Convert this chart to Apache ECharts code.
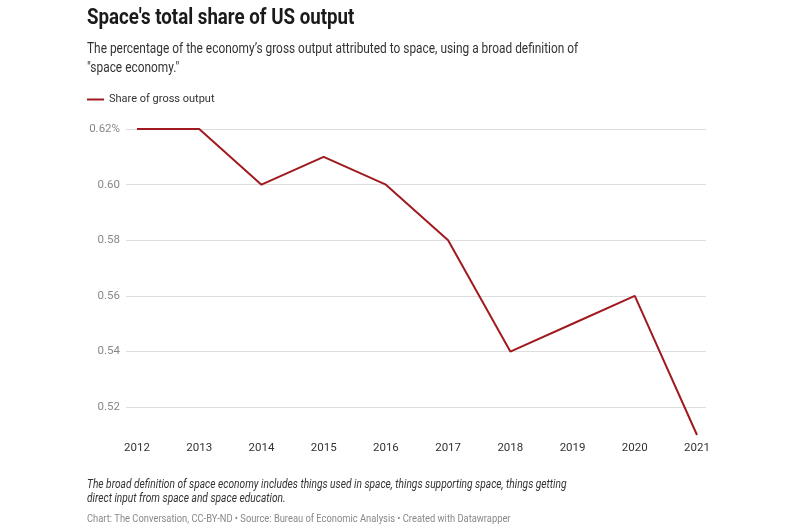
<!DOCTYPE html>
<html><head><meta charset="utf-8">
<script src="https://cdn.jsdelivr.net/npm/echarts@6/dist/echarts.min.js"></script>
<style>html,body{margin:0;padding:0;background:#fff}#c{width:800px;height:530px}</style>
</head><body><div id="c"></div>
<script>
const years = ['2012','2013','2014','2015','2016','2017','2018','2019','2020','2021'];
const shareOfGrossOutput = [0.62, 0.62, 0.60, 0.61, 0.60, 0.58, 0.54, 0.55, 0.56, 0.51];
const yMin = 0.51, yMax = 0.62, yStep = 0.01;
const titleText = "Space's total share of US output";
const subtitleLines = ['The percentage of the economy\u2019s gross output attributed to space, using a broad definition of', '"space economy."'];
const noteLines = ['The broad definition of space economy includes things used in space, things supporting space, things getting', 'direct input from space and space education.'];
const sourceText = 'Chart: The Conversation, CC-BY-ND \u2022 Source: Bureau of Economic Analysis \u2022 Created with Datawrapper';

const chart = echarts.init(document.getElementById('c'));
const F = 'Roboto, "Noto Sans", sans-serif';
const SX = 0.85;
const txt = (text, x, y, font, fill) => ({
  type: 'text', x: x, y: y, scaleX: SX, originX: 0, originY: 0, silent: true,
  style: { text: text, x: 0, y: 0, font: font, fill: fill, verticalAlign: 'middle', align: 'left' }
});
const yLabel = v => {
  const r = Math.round(v * 100);
  if (r % 2 !== 0) return '';
  const s = (r / 100).toFixed(2);
  return r === 62 ? s + '%' : s;
};
chart.setOption({
  animation: false,
  backgroundColor: '#fff',
  textStyle: { fontFamily: F },
  graphic: [
    txt(titleText, 87, 18, 'bold 22px ' + F, '#1a1a1a'),
    txt(subtitleLines[0], 87, 49, '14px ' + F, '#333'),
    txt(subtitleLines[1], 87, 68, '14px ' + F, '#333'),
    txt(noteLines[0], 87, 485, 'italic 12px ' + F, '#333'),
    txt(noteLines[1], 87, 499, 'italic 12px ' + F, '#333'),
    txt(sourceText, 87, 519, '11px ' + F, '#888')
  ],
  legend: {
    left: 82, top: 89, icon: 'rect', itemWidth: 17, itemHeight: 2, itemGap: 10,
    textStyle: { fontFamily: F, fontSize: 11, color: '#333' },
    data: ['Share of gross output']
  },
  grid: [
    { left: 126, right: 94, top: 129, bottom: 95 },
    { left: 137, right: 103, top: 129, bottom: 95 }
  ],
  xAxis: [
    { gridIndex: 0, type: 'category', data: years, show: false },
    { gridIndex: 1, type: 'category', data: years, boundaryGap: false,
      axisLine: { show: false }, axisTick: { show: false }, splitLine: { show: false },
      axisLabel: { margin: 7, color: '#333', fontSize: 11.5, fontFamily: F } }
  ],
  yAxis: [
    { gridIndex: 0, type: 'value', min: yMin, max: yMax, interval: yStep,
      axisLine: { show: false }, axisTick: { show: false },
      axisLabel: { formatter: yLabel, color: '#888', fontSize: 11.5, margin: 6, fontFamily: F },
      splitLine: { show: true, lineStyle: { color: ['rgba(0,0,0,0)', '#dedede'], width: 1 } } },
    { gridIndex: 1, type: 'value', min: yMin, max: yMax, interval: yStep, show: false,
      splitLine: { show: false } }
  ],
  series: [{
    name: 'Share of gross output', type: 'line', xAxisIndex: 1, yAxisIndex: 1,
    data: shareOfGrossOutput, symbol: 'none', color: '#a11a1f',
    lineStyle: { width: 2, color: '#a11a1f' }
  }]
});
</script></body></html>
